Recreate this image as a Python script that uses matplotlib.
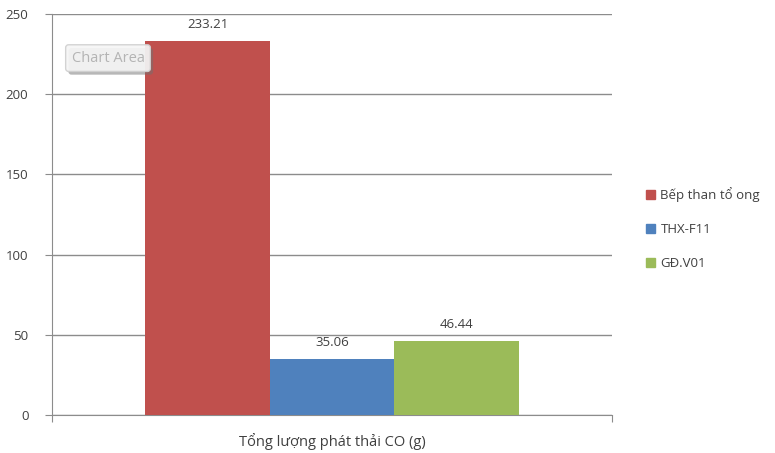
import matplotlib
matplotlib.use("Agg")
import matplotlib.pyplot as plt
from matplotlib.patches import Patch

series = ["Bếp than tổ ong", "THX-F11", "GĐ.V01"]
values = [233.21, 35.06, 46.44]
category = "Tổng lượng phát thải CO (g)"
colors = ["#C0504D", "#4F81BD", "#9BBB59"]
yticks = [0, 50, 100, 150, 200, 250]

plt.rcParams['font.family'] = ['Open Sans', 'DejaVu Sans']
txt = "#404040"

fig = plt.figure(figsize=(7.75, 4.53), dpi=100)
ax = fig.add_axes([52/775, 1-415/453, (612-52)/775, (415-14)/453])

w = 1/3
offsets = [-w, 0, w]
for s, v, c, o in zip(series, values, colors, offsets):
    ax.bar(o, v, width=w, color=c, label=s, zorder=3)
    ax.annotate(f"{v:.2f}", (o, v), xytext=(0, 7), textcoords="offset points",
                ha="center", va="bottom", fontsize=9.5, color=txt)

ax.set_xlim(-0.75, 0.75)
ax.set_ylim(0, 250)
ax.set_yticks(yticks)
ax.set_yticklabels([str(t) for t in yticks], fontsize=9.5, color=txt)
ax.yaxis.grid(True, color="#8C8C8C", linewidth=1.0, zorder=0)
ax.tick_params(axis="y", length=5, color="#8C8C8C", pad=12)
ax.set_xticks([-0.75, 0.75])
ax.set_xticklabels(["", ""])
ax.tick_params(axis="x", length=5, color="#8C8C8C")
ax.text(0, -0.045, category, transform=ax.get_xaxis_transform(), ha="center",
        va="top", fontsize=10.5, color=txt)
for side in ["top", "right"]:
    ax.spines[side].set_visible(False)
for side in ["left", "bottom"]:
    ax.spines[side].set_color("#8C8C8C")

# tooltip artifact
ax.text(0.105, 0.882, "Chart Area", transform=ax.transAxes, fontsize=10.5, color="#9A9A9A",
        va="center", ha="center", zorder=4, alpha=0.0,
        bbox=dict(boxstyle="round,pad=0.4,rounding_size=0.2", fc="#707070", ec="none", alpha=0.5))
ax.text(0.100, 0.89, "Chart Area", transform=ax.transAxes, fontsize=10.5, color="#B4B4B4",
        va="center", ha="center", zorder=5,
        bbox=dict(boxstyle="round,pad=0.4,rounding_size=0.2", fc="#F6F6F6", ec="#D0D0D0", alpha=0.92))

handles = [Patch(color=c, label=s) for s, c in zip(series, colors)]
fig.legend(handles=handles, loc="upper left", bbox_to_anchor=(634/775, 1-175/453),
           frameon=False, fontsize=9.5, labelcolor=txt, handlelength=0.7, handleheight=0.7,
           handletextpad=0.4, labelspacing=1.6)

fig.savefig("out.png", dpi=100, facecolor="white")
